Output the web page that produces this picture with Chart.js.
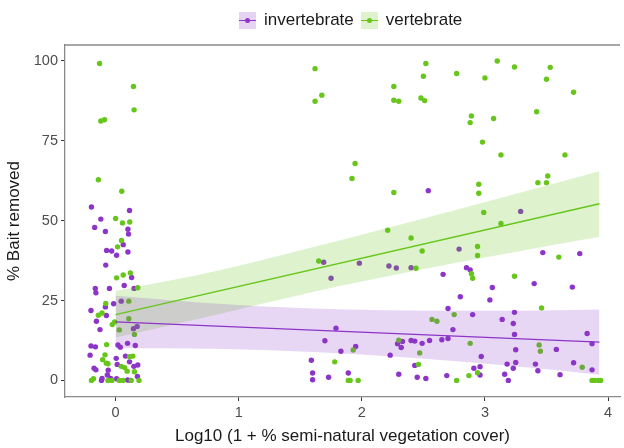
<!DOCTYPE html>
<html>
<head>
<meta charset="utf-8">
<script src="https://cdn.jsdelivr.net/npm/chart.js@4.4.0/dist/chart.umd.min.js"></script>
<style>
  html, body { margin: 0; padding: 0; background: #fff; }
  #wrap { position: relative; width: 624px; height: 448px; }
  #legend {
    position: absolute; top: 10px; left: 239px;
    display: flex; align-items: center;
    font: 17px "Liberation Sans", Arial, sans-serif; color: #1a1a1a;
  }
  .key { width: 17px; height: 17px; position: relative; margin-right: 8px; }
  .key .ln { position: absolute; left: 0; right: 0; top: 8px; height: 1px; }
  .key .dt { position: absolute; left: 6px; top: 6px; width: 5px; height: 5px; border-radius: 50%; }
  .lbl { margin-right: 7px; }
</style>
</head>
<body>
<div id="wrap">
  <canvas id="chart" width="624" height="448"></canvas>
  <div id="legend">
    <div class="key" style="background: rgba(140,53,200,0.22)">
      <div class="ln" style="background: #8C35C8"></div><div class="dt" style="background: #8C35C8"></div>
    </div>
    <span class="lbl">invertebrate</span>
    <div class="key" style="background: rgba(102,198,26,0.22)">
      <div class="ln" style="background: #66C61A"></div><div class="dt" style="background: #66C61A"></div>
    </div>
    <span class="lbl">vertebrate</span>
  </div>
</div>
<script>
// points: [log10 cover (jittered), % bait removed]
const invertPoints = [
  [-0.196, 54.3], [0.113, 53.2], [-0.12, 50.5], [-0.17, 47.9], [-0.083, 46.6], [0.1, 47.3],
  [0.105, 45.8], [0.062, 42.5], [-0.073, 40.7], [-0.032, 40.5], [0.1, 40.2], [0.008, 39.2],
  [-0.08, 36.1], [0.13, 32.2], [0.07, 29.7], [-0.165, 28.8], [-0.05, 28.8], [0.15, 28.8],
  [-0.16, 27.4], [-0.083, 23.0], [-0.016, 24.0], [0.046, 24.8], [-0.2, 21.9], [-0.075, 20.3],
  [-0.156, 18.5], [-0.127, 15.9], [0.145, 16.2], [0.175, 16.9], [-0.2, 10.8], [-0.164, 10.5],
  [0.019, 11.1], [0.038, 10.4], [0.097, 11.6], [0.16, 10.9], [-0.207, 7.9], [0.005, 6.9],
  [0.08, 7.6], [-0.175, 3.8], [-0.16, 3.3], [0.013, 5.0], [0.113, 5.8], [0.148, 4.4],
  [0.18, 4.8], [-0.06, 3.2], [-0.067, 1.7], [-0.11, 0.6], [-0.115, 0], [-0.04, 0.6],
  [0.008, 0.5], [0.097, 0.1], [0.12, 0], [0.177, 1.2],
  [2.54, 59.4], [1.69, 37.0], [1.98, 36.7], [2.22, 35.8], [2.28, 35.2], [2.4, 35.3],
  [1.75, 32.0], [2.66, 33.2], [2.7, 22.5], [2.74, 15.9], [1.79, 16.3], [1.70, 12.4],
  [1.83, 9.1], [1.95, 10.6], [2.33, 12.2], [2.29, 11.5], [2.32, 10.3], [2.4, 12.5],
  [2.43, 12.3], [2.49, 11.6], [2.55, 12.5], [2.65, 12.7], [2.7, 13.1], [2.23, 7.9],
  [1.59, 6.3], [2.43, 4.7], [1.6, 2.3], [1.6, 0.2], [1.73, 1.0], [1.89, 2.3],
  [2.3, 1.9], [2.45, 1.0], [2.52, 0.6], [2.69, 1.5],
  [3.29, 52.9], [2.79, 41.1], [3.47, 40.0], [3.77, 39.7], [2.85, 35.3], [2.88, 34.6],
  [3.4, 30.3], [3.06, 29.1], [3.71, 29.2], [2.8, 26.2], [3.04, 25.2], [2.9, 20.6],
  [3.24, 21.3], [3.14, 19.1], [3.23, 17.8], [3.24, 14.4], [3.83, 14.7], [3.87, 11.5],
  [3.25, 9.6], [3.58, 9.7], [2.97, 7.5], [3.18, 5.1], [3.25, 5.6], [3.41, 5.1],
  [3.72, 5.5], [2.96, 4.3], [2.91, 3.8], [2.96, 1.7], [3.23, 3.8], [3.43, 3.0],
  [3.87, 3.3], [3.16, 1.9], [3.19, 0], [3.61, 1.8]
];
const vertPoints = [
  [-0.13, 99.2], [0.145, 92.0], [0.15, 84.7], [-0.12, 81.2], [-0.09, 81.6], [-0.14, 62.8],
  [0.05, 59.2], [0.0, 50.7], [0.056, 49.3], [0.115, 49.6], [0.048, 43.8], [0.016, 41.8],
  [0.12, 33.6], [0.062, 33.0], [0.008, 32.1], [0.18, 29.0], [-0.08, 24.1], [0.107, 24.8],
  [-0.11, 21.1], [-0.14, 20.4], [-0.008, 18.3], [-0.027, 17.5], [0.107, 19.3], [0.03, 15.8],
  [0.153, 14.4], [-0.073, 11.2], [-0.086, 8.0], [0.113, 7.4], [0.14, 7.6], [-0.105, 6.5],
  [-0.075, 5.4], [-0.062, 5.2], [0.046, 4.4], [0.073, 4.0], [0.094, 2.9], [0.153, 2.7],
  [-0.196, 0], [-0.18, 0.5], [-0.062, 0], [-0.03, 0], [0.03, 0], [0.06, 0],
  [0.127, 0], [0.19, 0],
  [1.62, 97.6], [1.675, 89.3], [1.62, 87.4], [2.26, 92.0], [2.26, 87.7], [2.3, 87.4],
  [2.52, 99.2], [2.5, 95.2], [2.48, 88.4], [2.51, 87.6], [2.77, 96.1], [1.945, 67.9],
  [1.92, 63.2], [2.26, 58.8], [2.21, 47.0], [2.4, 44.6], [2.49, 40.5], [1.65, 37.4],
  [2.44, 35.1], [2.57, 19.1], [2.61, 18.5], [2.75, 20.6], [1.93, 9.5], [2.3, 12.6],
  [2.47, 8.6], [1.78, 5.8], [2.46, 5.0], [1.89, 0], [1.905, 0], [1.97, 0], [2.77, 0],
  [3.1, 100], [3.24, 98.1], [3.53, 98.0], [3.0, 94.7], [3.5, 94.3], [3.72, 90.2],
  [2.89, 82.8], [2.88, 80.7], [3.07, 82.0], [3.42, 84.1], [2.98, 74.6], [3.13, 70.6],
  [3.65, 70.6], [2.95, 61.4], [2.95, 58.6], [3.51, 64.0], [3.43, 61.9], [3.5, 61.9],
  [2.99, 52.6], [3.13, 49.1], [2.94, 41.9], [2.94, 39.1], [3.6, 38.6], [2.89, 33.4],
  [2.9, 32.0], [3.24, 32.6], [3.46, 22.7], [2.88, 11.6], [3.44, 11.1], [3.45, 9.1],
  [3.79, 4.1], [2.94, 2.4], [2.87, 1.5], [3.87, 0], [3.89, 0], [3.92, 0], [3.94, 0]
];

// fitted lines and 95% bands
const fitX = [0, 3.93];
const invertFit = [18.3, 12.0];
const vertFit = [20.6, 55.3];
const bandX = [0, 0.8, 1.6, 2.4, 3.2, 3.93];
const invertUpper = [26.5, 24.1, 22.5, 21.9, 21.8, 22.2];
const invertLower = [10.1, 9.9, 8.9, 7.1, 4.6, 1.8];
const vertUpper = [28.0, 34.1, 41.7, 49.7, 57.9, 65.5];
const vertLower = [13.4, 20.4, 27.7, 34.1, 39.9, 45.0];

const xTicks = [0, 1, 2, 3, 4];
const yTicks = [0, 25, 50, 75, 100];

const purple = "#8C35C8";
const green = "#66C61A";
const font = "'Liberation Sans', Arial, sans-serif";

const toXY = (xs, ys) => xs.map((x, i) => ({ x: x, y: ys[i] }));
const toPts = (arr) => arr.map((p) => ({ x: p[0], y: p[1] }));

const band = (ys, fill, color) => ({
  data: toXY(bandX, ys),
  showLine: true,
  borderColor: "transparent",
  pointRadius: 0,
  cubicInterpolationMode: "monotone",
  fill: fill,
  backgroundColor: color,
  order: 1,
});

// top border of the panel
const panelTop = {
  id: "panelTop",
  afterDraw(chart) {
    const a = chart.chartArea, c = chart.ctx;
    c.save();
    c.strokeStyle = "#8a8a8a";
    c.lineWidth = 1.3;
    c.beginPath();
    c.moveTo(a.left, a.top);
    c.lineTo(a.right, a.top);
    c.stroke();
    c.restore();
  },
};

const ctx = document.getElementById("chart").getContext("2d");
new Chart(ctx, {
  type: "scatter",
  data: {
    datasets: [
      band(invertUpper, "+1", "rgba(140,53,200,0.2)"),
      band(invertLower, false, "transparent"),
      band(vertUpper, "+1", "rgba(102,198,26,0.22)"),
      band(vertLower, false, "transparent"),
      {
        data: toXY(fitX, invertFit), showLine: true, borderColor: purple,
        borderWidth: 1.3, pointRadius: 0, order: 0,
      },
      {
        data: toXY(fitX, vertFit), showLine: true, borderColor: green,
        borderWidth: 1.3, pointRadius: 0, order: 0,
      },
      {
        data: toPts(vertPoints), backgroundColor: green, borderColor: green,
        borderWidth: 0, pointRadius: 2.7, order: 10,
      },
      {
        data: toPts(invertPoints), backgroundColor: purple, borderColor: purple,
        borderWidth: 0, pointRadius: 2.7, order: 10,
      },
    ],
  },
  options: {
    responsive: false,
    animation: false,
    layout: { padding: { top: 45, right: 0, left: 0, bottom: 0 } },
    plugins: { legend: { display: false }, tooltip: { enabled: false } },
    scales: {
      x: {
        type: "linear",
        min: -0.411,
        max: 4.097,
        afterBuildTicks: (s) => { s.ticks = xTicks.map((v) => ({ value: v })); },
        afterFit: (s) => { s.height = 51; },
        ticks: { font: { family: font, size: 14.5 }, color: "#4d4d4d", padding: 3 },
        grid: { drawOnChartArea: false, drawTicks: true, tickLength: 4, color: "#333" },
        border: { color: "#8a8a8a", width: 1.3 },
        title: {
          display: true,
          text: "Log10 (1 + % semi-natural vegetation cover)",
          font: { family: font, size: 17 },
          color: "#1a1a1a",
          padding: { top: 0, bottom: 1 },
        },
      },
      y: {
        min: -5.2,
        max: 105,
        afterBuildTicks: (s) => { s.ticks = yTicks.map((v) => ({ value: v })); },
        afterFit: (s) => { s.width = 65; },
        ticks: { font: { family: font, size: 14.5 }, color: "#4d4d4d", padding: 3 },
        grid: { drawOnChartArea: false, drawTicks: true, tickLength: 4, color: "#333" },
        border: { color: "#8a8a8a", width: 1.3 },
        title: {
          display: true,
          text: "% Bait removed",
          font: { family: font, size: 17 },
          color: "#1a1a1a",
        },
      },
    },
  },
  plugins: [panelTop],
});
</script>
</body>
</html>
